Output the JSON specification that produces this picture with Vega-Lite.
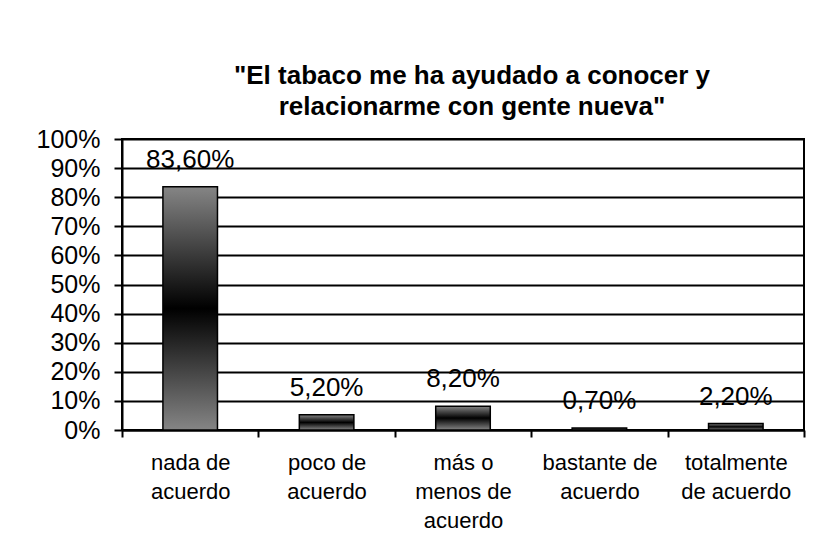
{
  "$schema": "https://vega.github.io/schema/vega-lite/v6.json",
  "width": 682,
  "height": 291,
  "autosize": {"type": "none"},
  "padding": {"left": 122, "top": 139, "right": 12, "bottom": 130},
  "background": "white",
  "title": {
    "text": ["\"El tabaco me ha ayudado a conocer y", "relacionarme con gente nueva\""],
    "font": "Liberation Sans",
    "fontSize": 26,
    "fontWeight": "bold",
    "color": "black",
    "lineHeight": 31,
    "anchor": "middle",
    "dx": 9,
    "offset": 7
  },
  "data": {
    "values": [
      {"categoria": "nada de|acuerdo", "valor": 0.836},
      {"categoria": "poco de|acuerdo", "valor": 0.052},
      {"categoria": "más o|menos de|acuerdo", "valor": 0.082},
      {"categoria": "bastante de|acuerdo", "valor": 0.007},
      {"categoria": "totalmente|de acuerdo", "valor": 0.022}
    ]
  },
  "encoding": {
    "x": {
      "field": "categoria",
      "type": "nominal",
      "sort": null,
      "title": null,
      "scale": {"paddingInner": 0, "paddingOuter": 0},
      "axis": {
        "labelExpr": "isValid(datum.value) ? split(datum.value, '|') : ''",
        "labelAngle": 0,
        "labelFont": "Liberation Sans",
        "labelFontSize": 22,
        "labelColor": "black",
        "labelLineHeight": 29,
        "labelBaseline": "top",
        "labelPadding": 15,
        "tickBand": "extent",
        "tickSize": 7,
        "tickColor": "black",
        "tickWidth": 2,
        "domainColor": "black",
        "domainWidth": 2,
        "grid": false
      }
    },
    "y": {
      "field": "valor",
      "type": "quantitative",
      "title": null,
      "scale": {"domain": [0, 1], "nice": false},
      "axis": {
        "values": [0, 0.1, 0.2, 0.3, 0.4, 0.5, 0.6, 0.7, 0.8, 0.9, 1],
        "format": ".0%",
        "labelFont": "Liberation Sans",
        "labelFontSize": 25,
        "labelColor": "black",
        "labelPadding": 14,
        "tickSize": 8,
        "tickColor": "black",
        "tickWidth": 2,
        "domainColor": "black",
        "domainWidth": 2,
        "grid": true,
        "gridColor": "black",
        "gridWidth": 2,
        "gridOpacity": 1
      }
    }
  },
  "layer": [
    {
      "mark": {
        "type": "bar",
        "width": {"band": 0.4},
        "stroke": "black",
        "strokeWidth": 1.5,
        "fill": {
          "gradient": "linear",
          "x1": 0, "y1": 0, "x2": 0, "y2": 1,
          "stops": [
            {"offset": 0, "color": "#858585"},
            {"offset": 0.5, "color": "#000000"},
            {"offset": 1, "color": "#858585"}
          ]
        }
      }
    },
    {
      "mark": {
        "type": "text",
        "font": "Liberation Sans",
        "fontSize": 26,
        "color": "black",
        "baseline": "alphabetic",
        "dy": -19
      },
      "encoding": {
        "text": {"field": "valor", "type": "quantitative", "format": ".2%"}
      }
    }
  ],
  "config": {
    "locale": {
      "number": {
        "decimal": ",",
        "thousands": ".",
        "grouping": [3],
        "currency": ["", " €"]
      }
    },
    "view": {"stroke": "black", "strokeWidth": 2}
  }
}
